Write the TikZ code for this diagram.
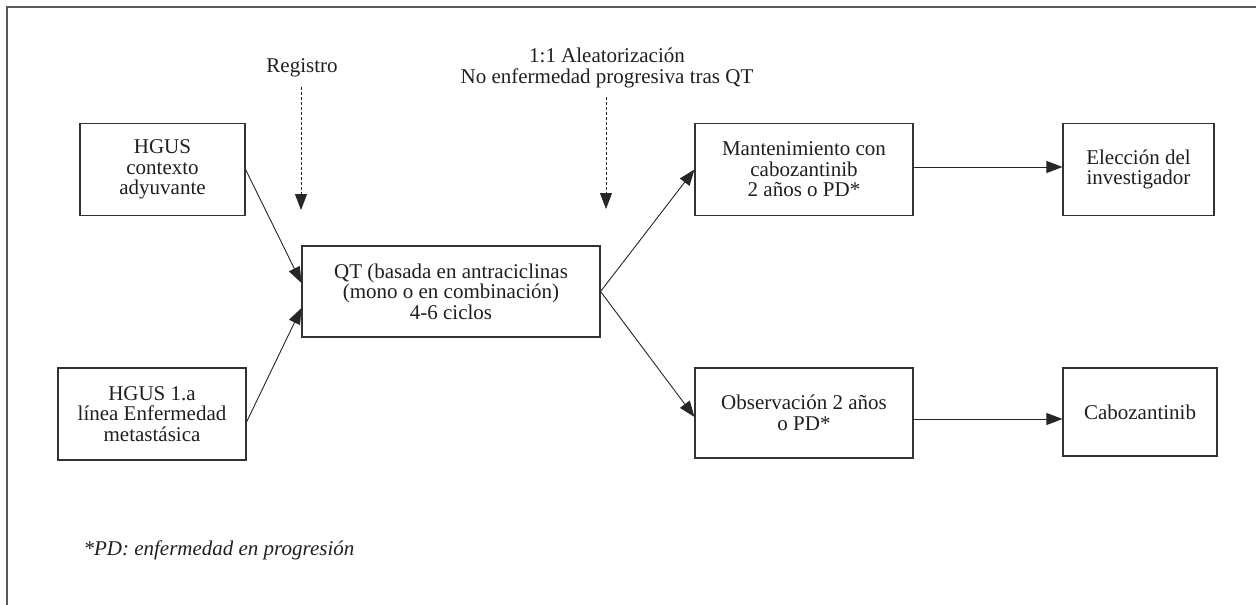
\documentclass[tikz,border=0pt]{standalone}
\usepackage{fontspec}
\setmainfont{Liberation Serif}
\usetikzlibrary{arrows.meta,calc}
\begin{document}
\begin{tikzpicture}[x=1pt,y=-1pt,
  every node/.style={font=\fontsize{21}{20.5}\selectfont, text=black!88},
  box/.style={draw=black!80, line width=1.1pt, align=center, inner sep=0pt},
  arr/.style={draw=black!85, line width=0.9pt, -{Triangle[length=16pt,width=12pt]}},
  darr/.style={draw=black!85, line width=0.9pt, dash pattern=on 3pt off 2pt, -{Triangle[length=16pt,width=12pt]}},
  frame/.style={draw=black!65, line width=2pt}]
\useasboundingbox (0,0) rectangle (1256,605);
\coordinate (f1) at (7,605);
\coordinate (f2) at (7,7);
\coordinate (f3) at (1256,7);
\draw[frame] (f1) -- (f2) -- (f3);

\node[box, minimum width=165pt, minimum height=92pt] (h1) at (162.5,169.5) {HGUS\\contexto\\adyuvante};
\node[box, minimum width=188pt, minimum height=92pt] (h2) at (152,414) {HGUS 1.a\\línea Enfermedad\\metastásica};
\node[box, minimum width=298pt, minimum height=91pt] (qt) at (451,291.5) {QT (basada en antraciclinas\\(mono o en combinación)\\4-6 ciclos};
\node[box, minimum width=218pt, minimum height=92pt] (mant) at (804,169.5) {Mantenimiento con\\cabozantinib\\2 años o PD*};
\node[box, minimum width=151pt, minimum height=92pt] (elec) at (1138.5,169.5) {Elección del\\investigador};
\node[box, minimum width=218pt, minimum height=90pt] (obs) at (804,413) {Observación 2 años\\o PD*};
\node[box, minimum width=154pt, minimum height=88pt] (cabo) at (1140,412) {Cabozantinib};

\node (reg) at (302,68) {Registro};
\node[align=center] (ale) at (607,68) {1:1 Aleatorización\\No enfermedad progresiva tras QT};
\node[anchor=west, font=\fontsize{21}{21}\selectfont\itshape] (pd) at (80,550) {*PD: enfermedad en progresión};

\coordinate (r1a) at (301,87);
\coordinate (r1b) at (301,210);
\coordinate (r2a) at (606,97);
\coordinate (r2b) at (606,209);
\draw[darr] (r1a) -- (r1b);
\draw[darr] (r2a) -- (r2b);

\draw[arr] (h1.east) -- ($(qt.west)+(0,-8.5)$);
\draw[arr] ($(h2.east)+(0,8)$) -- ($(qt.west)+(0,16.5)$);
\draw[arr] (qt.east) -- (mant.west);
\draw[arr] (qt.east) -- ($(obs.west)+(0,4)$);
\draw[arr] ($(mant.east)+(0,-2.5)$) -- ($(elec.west)+(0,-2.5)$);
\draw[arr] ($(obs.east)+(0,6)$) -- ($(cabo.west)+(0,7)$);
\end{tikzpicture}
\end{document}
